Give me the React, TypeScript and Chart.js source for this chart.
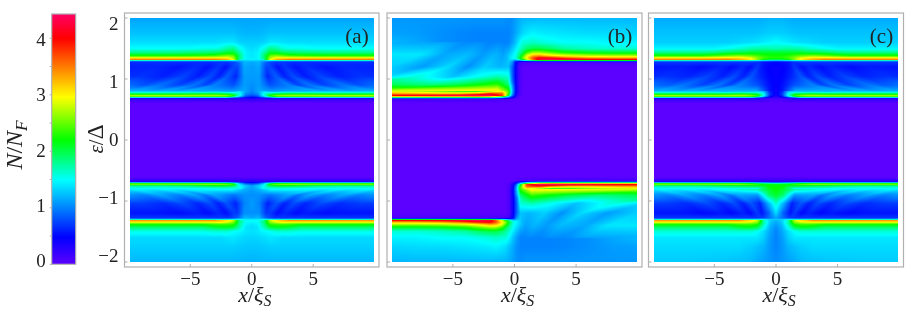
import React, { useEffect, useRef } from "react";
import { Chart, registerables } from "chart.js";

Chart.register(...registerables);

const SERIF = '"Liberation Serif", serif';
const TEXT = "#222222";
const FRAME = "#b0b0b0";

// Colour scale: value and colour of each stop
const scaleValues = [0, 0.48, 1.49, 2.2, 2.96, 4.0, 4.43];
const scaleColors = [
  [92, 0, 255],
  [0, 0, 255],
  [0, 255, 255],
  [0, 255, 0],
  [255, 255, 0],
  [255, 0, 0],
  [255, 0, 102],
];
const barLevels = [-0.1, 0, 0.48, 1.49, 2.2, 2.96, 4.0, 4.5];
const barTicks = [0, 0.5, 1, 1.5, 2, 2.5, 3, 3.5, 4];
const barLabels = [0, 1, 2, 3, 4];
const xTicks = [-5, 0, 5];
const yTicks = [-2, -1, 0, 1, 2];

// Panels (a) and (c): |x| columns and energy rows, mirrored about x = 0
const xHalf = [0, 0.5, 1, 1.5, 2, 2.5, 3, 4, 5, 6, 7, 8.5, 10];
const energies = [
  2.02, 1.75, 1.6, 1.5, 1.43, 1.38, 1.345, 1.32, 1.3, 1.28, 0.8, 0.75, 0.72, 0.7, 0.68, 0.6,
  -0.6, -0.68, -0.7, -0.72, -0.75, -0.8, -1.28, -1.3, -1.32, -1.345, -1.38, -1.43, -1.5, -1.6, -1.75, -2.02,
];
const panelA = [
  [1.12, 1.12, 1.12, 1.12, 1.12, 1.12, 1.12, 1.12, 1.12, 1.12, 1.12, 1.12, 1.12],
  [1.2, 1.2, 1.22, 1.25, 1.25, 1.25, 1.25, 1.25, 1.25, 1.25, 1.25, 1.25, 1.25],
  [1.3, 1.3, 1.32, 1.4, 1.4, 1.38, 1.36, 1.36, 1.36, 1.36, 1.36, 1.36, 1.36],
  [1.35, 1.4, 1.55, 1.8, 1.75, 1.6, 1.55, 1.55, 1.5, 1.5, 1.5, 1.5, 1.5],
  [1.4, 1.45, 1.75, 2.1, 2.1, 2.0, 1.95, 1.9, 1.9, 1.85, 1.85, 1.85, 1.85],
  [1.4, 1.45, 1.9, 2.5, 2.6, 2.5, 2.4, 2.35, 2.3, 2.3, 2.3, 2.3, 2.3],
  [1.4, 1.45, 1.85, 2.7, 3.0, 3.0, 3.0, 3.0, 3.0, 3.0, 3.0, 3.0, 3.0],
  [1.45, 1.45, 1.75, 2.9, 3.3, 3.4, 3.5, 3.5, 3.5, 3.5, 3.5, 3.5, 3.5],
  [1.3, 1.3, 1.2, 1.2, 1.2, 1.25, 1.25, 1.25, 1.25, 1.25, 1.25, 1.25, 1.25],
  [1.15, 1.2, 1.05, 0.8, 0.7, 0.65, 0.65, 0.65, 0.65, 0.65, 0.65, 0.65, 0.65],
  [1.0, 1.15, 1.35, 1.1, 1.1, 1.15, 1.2, 1.15, 1.2, 1.2, 1.2, 1.2, 1.2],
  [0.9, 1.0, 1.6, 2.0, 2.2, 2.25, 2.3, 2.3, 2.25, 2.2, 2.2, 2.2, 2.2],
  [0.7, 0.85, 1.5, 2.3, 2.7, 2.8, 2.8, 2.8, 2.85, 2.9, 2.9, 2.9, 2.9],
  [0.5, 0.6, 0.9, 1.2, 1.6, 1.6, 1.6, 1.6, 1.6, 1.6, 1.6, 1.6, 1.6],
  [0.3, 0.25, 0.25, 0.25, 0.25, 0.25, 0.25, 0.25, 0.25, 0.25, 0.25, 0.25, 0.25],
  [0, 0, 0, 0, 0, 0, 0, 0, 0, 0, 0, 0, 0],
  [0, 0, 0, 0, 0, 0, 0, 0, 0, 0, 0, 0, 0],
  [0.3, 0.25, 0.25, 0.25, 0.25, 0.25, 0.25, 0.25, 0.25, 0.25, 0.25, 0.25, 0.25],
  [0.5, 0.6, 0.9, 1.2, 1.4, 1.4, 1.4, 1.4, 1.4, 1.4, 1.4, 1.4, 1.4],
  [0.8, 0.9, 1.4, 2.4, 2.7, 2.75, 2.8, 2.8, 2.8, 2.8, 2.8, 2.8, 2.8],
  [1.1, 1.3, 1.5, 2.0, 2.05, 2.1, 2.1, 2.0, 1.9, 1.85, 1.8, 1.8, 1.8],
  [1.1, 1.2, 1.55, 1.5, 1.5, 1.5, 1.45, 1.45, 1.45, 1.45, 1.45, 1.45, 1.45],
  [1.15, 1.2, 1.0, 0.8, 0.7, 0.7, 0.7, 0.7, 0.7, 0.7, 0.7, 0.7, 0.7],
  [1.4, 1.4, 1.45, 1.35, 1.3, 1.3, 1.3, 1.3, 1.3, 1.3, 1.3, 1.3, 1.3],
  [1.5, 1.5, 1.8, 2.8, 3.1, 3.2, 3.4, 3.4, 3.4, 3.4, 3.4, 3.4, 3.4],
  [1.45, 1.5, 1.85, 2.6, 2.9, 3.1, 3.0, 3.0, 3.0, 3.0, 3.0, 3.0, 3.0],
  [1.4, 1.45, 1.8, 2.35, 2.4, 2.4, 2.4, 2.3, 2.3, 2.3, 2.3, 2.3, 2.3],
  [1.35, 1.4, 1.7, 2.05, 2.1, 2.1, 2.05, 1.9, 1.9, 1.9, 1.9, 1.9, 1.9],
  [1.38, 1.4, 1.47, 1.5, 1.6, 1.6, 1.6, 1.55, 1.55, 1.55, 1.55, 1.55, 1.55],
  [1.32, 1.33, 1.36, 1.4, 1.38, 1.35, 1.35, 1.35, 1.35, 1.35, 1.35, 1.35, 1.35],
  [1.27, 1.27, 1.28, 1.3, 1.3, 1.3, 1.3, 1.3, 1.3, 1.3, 1.3, 1.3, 1.3],
  [1.18, 1.19, 1.2, 1.2, 1.2, 1.2, 1.2, 1.2, 1.2, 1.2, 1.2, 1.2, 1.2],
];
const panelC = [
  [1.18, 1.18, 1.16, 1.15, 1.15, 1.15, 1.15, 1.15, 1.15, 1.15, 1.15, 1.15, 1.15],
  [1.3, 1.3, 1.28, 1.26, 1.25, 1.25, 1.25, 1.25, 1.25, 1.25, 1.25, 1.25, 1.25],
  [1.5, 1.45, 1.42, 1.38, 1.36, 1.35, 1.33, 1.3, 1.3, 1.3, 1.3, 1.3, 1.3],
  [1.7, 1.72, 1.75, 1.72, 1.7, 1.65, 1.6, 1.52, 1.45, 1.45, 1.45, 1.45, 1.45],
  [2.1, 2.1, 2.1, 2.1, 2.1, 2.05, 2.05, 2.0, 1.9, 1.85, 1.85, 1.85, 1.85],
  [2.25, 2.25, 2.3, 2.4, 2.5, 2.55, 2.6, 2.5, 2.4, 2.3, 2.3, 2.3, 2.3],
  [2.3, 2.3, 2.4, 2.6, 2.9, 3.0, 3.1, 3.1, 3.05, 3.0, 3.0, 3.0, 3.0],
  [2.0, 2.05, 2.2, 2.6, 3.0, 3.2, 3.3, 3.5, 3.5, 3.5, 3.5, 3.5, 3.5],
  [1.1, 1.15, 1.2, 1.25, 1.3, 1.3, 1.3, 1.3, 1.3, 1.3, 1.3, 1.3, 1.3],
  [0.5, 0.52, 0.55, 0.65, 0.7, 0.7, 0.7, 0.7, 0.7, 0.7, 0.7, 0.7, 0.7],
  [0.4, 0.6, 1.2, 1.2, 1.2, 1.15, 1.2, 1.15, 1.2, 1.2, 1.2, 1.2, 1.2],
  [0.4, 0.7, 1.5, 2.1, 2.2, 2.3, 2.3, 2.2, 2.2, 2.2, 2.2, 2.2, 2.2],
  [0.35, 0.6, 1.5, 2.4, 2.7, 2.8, 2.85, 2.85, 2.85, 2.85, 2.85, 2.85, 2.85],
  [0.2, 0.4, 0.8, 1.2, 1.6, 1.6, 1.6, 1.6, 1.6, 1.6, 1.6, 1.6, 1.6],
  [0.1, 0.1, 0.2, 0.25, 0.25, 0.25, 0.25, 0.25, 0.25, 0.25, 0.25, 0.25, 0.25],
  [0, 0, 0, 0, 0, 0, 0, 0, 0, 0, 0, 0, 0],
  [0, 0, 0, 0, 0, 0, 0, 0, 0, 0, 0, 0, 0],
  [0.25, 0.25, 0.25, 0.25, 0.25, 0.25, 0.25, 0.25, 0.25, 0.25, 0.25, 0.25, 0.25],
  [1.0, 1.1, 1.2, 1.3, 1.4, 1.4, 1.4, 1.4, 1.4, 1.4, 1.4, 1.4, 1.4],
  [2.1, 2.15, 2.2, 2.4, 2.6, 2.7, 2.8, 2.8, 2.8, 2.8, 2.8, 2.8, 2.8],
  [2.2, 2.2, 2.1, 2.1, 2.1, 2.05, 2.0, 2.0, 1.9, 1.85, 1.8, 1.8, 1.8],
  [2.2, 2.15, 1.9, 1.5, 1.5, 1.5, 1.5, 1.45, 1.45, 1.45, 1.45, 1.45, 1.45],
  [1.1, 0.9, 0.75, 0.7, 0.7, 0.7, 0.7, 0.7, 0.7, 0.7, 0.7, 0.7, 0.7],
  [1.3, 1.3, 1.4, 1.35, 1.3, 1.3, 1.3, 1.3, 1.3, 1.3, 1.3, 1.3, 1.3],
  [1.2, 1.3, 1.7, 2.8, 3.1, 3.2, 3.4, 3.4, 3.4, 3.4, 3.4, 3.4, 3.4],
  [1.15, 1.3, 1.75, 2.6, 2.9, 3.0, 3.0, 3.0, 3.0, 3.0, 3.0, 3.0, 3.0],
  [1.1, 1.25, 1.7, 2.3, 2.4, 2.4, 2.4, 2.3, 2.3, 2.3, 2.3, 2.3, 2.3],
  [1.05, 1.2, 1.55, 2.0, 2.1, 2.1, 2.05, 1.9, 1.9, 1.9, 1.9, 1.9, 1.9],
  [1.0, 1.15, 1.35, 1.5, 1.6, 1.6, 1.6, 1.6, 1.6, 1.6, 1.6, 1.6, 1.6],
  [1.0, 1.1, 1.3, 1.4, 1.4, 1.4, 1.4, 1.4, 1.4, 1.4, 1.4, 1.4, 1.4],
  [1.0, 1.08, 1.2, 1.25, 1.3, 1.32, 1.35, 1.35, 1.35, 1.35, 1.35, 1.35, 1.35],
  [1.05, 1.08, 1.1, 1.15, 1.2, 1.22, 1.23, 1.25, 1.26, 1.27, 1.28, 1.28, 1.28],
];

// Fringes between the two gap edges: the column positions of each row follow the arcs
const fringeEnergies = [1.28, 1.2, 1.04, 0.9, 0.8];
const fringeNodes = [
  [0, 0.6, 1.0, 1.3, 1.9, 2.5, 3.3, 4.1, 5.5, 7.0, 11],
  [0, 0.6, 1.15, 1.5, 2.1, 2.7, 3.6, 4.5, 6.0, 7.5, 11],
  [0, 0.6, 1.3, 2.0, 2.7, 3.4, 4.4, 5.6, 7.2, 9.0, 11.5],
  [0, 0.6, 1.5, 3.0, 3.8, 4.7, 6.0, 7.5, 8.8, 10.5, 12],
  [0, 0.6, 1.6, 5.3, 6.2, 7.2, 8.2, 9.6, 10.3, 11, 12],
];
const fringeATop = [
  [1.15, 1.2, 0.95, 0.8, 0.7, 0.7, 0.65, 0.65, 0.65, 0.65, 0.65],
  [1.1, 1.15, 0.75, 0.75, 0.55, 0.68, 0.55, 0.65, 0.55, 0.62, 0.6],
  [1.1, 1.1, 0.62, 0.85, 0.6, 0.78, 0.58, 0.75, 0.6, 0.68, 0.62],
  [1.05, 1.1, 0.8, 1.0, 0.75, 0.95, 0.75, 0.95, 0.8, 0.95, 0.9],
  [1.0, 1.15, 1.1, 1.2, 1.15, 1.2, 1.15, 1.2, 1.2, 1.2, 1.2],
];
const fringeABottom = [
  [1.15, 1.2, 0.95, 0.8, 0.7, 0.7, 0.7, 0.7, 0.7, 0.7, 0.7],
  [1.05, 1.05, 0.7, 0.7, 0.52, 0.62, 0.52, 0.58, 0.52, 0.55, 0.55],
  [1.1, 1.0, 0.6, 0.82, 0.6, 0.78, 0.62, 0.78, 0.65, 0.72, 0.7],
  [1.05, 1.05, 0.95, 1.15, 0.95, 1.15, 1.0, 1.15, 1.0, 1.1, 1.1],
  [1.1, 1.2, 1.55, 1.5, 1.45, 1.5, 1.45, 1.5, 1.45, 1.45, 1.45],
];
const fringeCTop = [
  [0.5, 0.52, 0.55, 0.65, 0.7, 0.7, 0.7, 0.7, 0.7, 0.7, 0.7],
  [0.45, 0.47, 0.55, 0.7, 0.52, 0.62, 0.52, 0.6, 0.52, 0.58, 0.55],
  [0.45, 0.5, 0.62, 0.82, 0.6, 0.78, 0.6, 0.75, 0.62, 0.68, 0.6],
  [0.45, 0.55, 0.8, 1.0, 0.75, 0.95, 0.75, 0.95, 0.85, 0.95, 0.9],
  [0.4, 0.6, 1.2, 1.2, 1.15, 1.2, 1.15, 1.2, 1.2, 1.2, 1.2],
];
const fringeCBottom = [
  [1.1, 0.9, 0.75, 0.72, 0.7, 0.7, 0.7, 0.7, 0.7, 0.7, 0.7],
  [1.35, 0.85, 0.55, 0.7, 0.5, 0.6, 0.5, 0.56, 0.5, 0.55, 0.55],
  [1.65, 1.2, 0.6, 0.82, 0.6, 0.78, 0.62, 0.78, 0.65, 0.72, 0.7],
  [2.1, 1.9, 1.1, 1.15, 0.95, 1.15, 1.0, 1.15, 1.0, 1.1, 1.1],
  [2.2, 2.1, 1.8, 1.5, 1.45, 1.5, 1.45, 1.5, 1.45, 1.45, 1.45],
];

// Panel (b): upper half; the lower half repeats it under (x, e) -> (-x, -e)
const xB = [-10, -8, -6, -4.5, -3, -2, -1, -0.5, -0.2, 0.1, 0.4, 0.7, 1, 1.5, 2, 3, 4, 6, 8, 10];
const energiesB = [2.02, 1.75, 1.6, 1.5, 1.43, 1.38, 1.345, 1.32, 1.3, 1.28, 1.2, 1.05, 0.95, 0.87, 0.8, 0.76, 0.73, 0.71, 0.69, 0.67, 0.6];
const panelB = [
  [1.08, 1.08, 1.08, 1.08, 1.08, 1.08, 1.08, 1.05, 1.05, 1.1, 1.15, 1.18, 1.18, 1.18, 1.2, 1.2, 1.2, 1.2, 1.2, 1.2],
  [1.12, 1.1, 1.05, 1.02, 1.0, 1.0, 1.0, 1.0, 1.05, 1.15, 1.25, 1.35, 1.4, 1.45, 1.42, 1.4, 1.38, 1.35, 1.35, 1.32],
  [1.22, 1.15, 1.05, 1.02, 1.0, 1.0, 1.0, 1.0, 1.1, 1.25, 1.45, 1.6, 1.6, 1.65, 1.6, 1.55, 1.5, 1.5, 1.45, 1.45],
  [1.3, 1.15, 1.1, 1.05, 1.05, 1.0, 1.05, 1.1, 1.25, 1.4, 1.6, 1.75, 1.9, 2.0, 2.0, 1.9, 1.75, 1.65, 1.6, 1.6],
  [1.4, 1.2, 1.2, 1.1, 1.1, 1.1, 1.1, 1.2, 1.35, 1.5, 1.75, 2.0, 2.4, 2.7, 2.7, 2.5, 2.3, 2.15, 2.1, 2.1],
  [1.35, 1.3, 1.15, 1.15, 1.15, 1.15, 1.2, 1.3, 1.4, 1.55, 1.9, 2.4, 2.9, 3.3, 3.4, 3.1, 2.95, 2.8, 2.75, 2.75],
  [1.3, 1.25, 1.15, 1.15, 1.15, 1.15, 1.2, 1.3, 1.45, 1.6, 2.0, 2.6, 3.0, 3.7, 4.1, 4.0, 3.7, 3.4, 3.3, 3.3],
  [1.3, 1.25, 1.15, 1.15, 1.15, 1.15, 1.2, 1.3, 1.4, 1.3, 1.8, 2.2, 2.8, 3.6, 4.2, 4.4, 4.3, 4.1, 4.0, 4.0],
  [1.25, 1.2, 1.12, 1.1, 1.1, 1.12, 1.2, 1.3, 1.2, 0.9, 1.0, 1.2, 1.4, 1.6, 1.7, 1.8, 1.8, 1.8, 1.8, 1.8],
  [1.2, 1.18, 1.1, 1.05, 1.08, 1.1, 1.2, 1.3, 1.1, 0.5, 0.2, 0.1, 0.1, 0.1, 0.1, 0.1, 0.1, 0.1, 0.1, 0.1],
  [1.15, 1.15, 1.05, 1.0, 1.05, 1.05, 1.2, 1.25, 0.9, 0.45, 0.1, 0, 0, 0, 0, 0, 0, 0, 0, 0],
  [1.4, 1.2, 1.3, 1.15, 1.2, 1.25, 1.45, 1.6, 0.9, 0.45, 0.12, 0, 0, 0, 0, 0, 0, 0, 0, 0],
  [1.8, 1.55, 1.6, 1.45, 1.3, 1.55, 1.75, 1.7, 1.0, 0.45, 0.12, 0, 0, 0, 0, 0, 0, 0, 0, 0],
  [2.2, 2.2, 2.0, 1.7, 1.6, 1.7, 2.3, 2.1, 1.2, 0.5, 0.12, 0, 0, 0, 0, 0, 0, 0, 0, 0],
  [2.8, 2.7, 2.5, 2.3, 2.2, 2.6, 3.0, 2.4, 1.3, 0.5, 0.12, 0, 0, 0, 0, 0, 0, 0, 0, 0],
  [3.4, 3.3, 3.2, 3.2, 3.5, 3.9, 3.6, 2.4, 1.2, 0.45, 0.1, 0, 0, 0, 0, 0, 0, 0, 0, 0],
  [4.0, 4.1, 4.2, 4.3, 4.4, 4.4, 3.8, 2.1, 1.0, 0.35, 0.08, 0, 0, 0, 0, 0, 0, 0, 0, 0],
  [3.0, 3.0, 3.1, 3.1, 3.2, 3.0, 2.2, 1.3, 0.7, 0.25, 0.05, 0, 0, 0, 0, 0, 0, 0, 0, 0],
  [1.3, 1.3, 1.3, 1.3, 1.3, 1.3, 1.0, 0.7, 0.4, 0.15, 0, 0, 0, 0, 0, 0, 0, 0, 0, 0],
  [0.15, 0.15, 0.15, 0.15, 0.15, 0.15, 0.1, 0.08, 0.05, 0, 0, 0, 0, 0, 0, 0, 0, 0, 0, 0],
  [0, 0, 0, 0, 0, 0, 0, 0, 0, 0, 0, 0, 0, 0, 0, 0, 0, 0, 0, 0],
];
const fringeEnergiesB = [1.6, 1.4, 1.2, 1.04, 0.9, 0.8];
const fringeNodesB = [
  [0.5, 0.8, 1.2, 2.0, 2.8, 4.0, 5.5, 12],
  [0.5, 0.9, 1.6, 2.6, 3.8, 5.8, 7.6, 13],
  [0.5, 1.2, 2.4, 3.8, 5.4, 7.5, 10, 14],
  [0.5, 1.4, 3.1, 5.0, 7.9, 10.5, 13, 16],
  [0.5, 1.4, 4.8, 7.0, 13, 14, 15, 18],
  [0.5, 1.4, 10, 12, 14, 15, 16, 18],
];
const fringeB = [
  [1.0, 1.0, 1.02, 1.0, 1.05, 1.03, 1.12, 1.2],
  [1.25, 1.12, 1.2, 1.1, 1.22, 1.15, 1.4, 1.4],
  [1.25, 1.2, 1.3, 1.05, 1.35, 1.1, 1.3, 1.2],
  [1.6, 1.7, 1.5, 1.25, 1.6, 1.35, 1.45, 1.4],
  [1.9, 2.4, 2.0, 1.9, 2.1, 2.05, 2.0, 2.0],
  [2.4, 3.1, 2.9, 2.8, 2.8, 2.8, 2.8, 2.8],
];

type Patch = { xs: number[]; ys: number[]; rows: number[][] };
type Arc = { nodes: number[][]; ys: number[]; rows: number[][]; xSign: number; ySign: number };

function colorOf(v: number): number[] {
  const n = scaleValues.length;
  if (v <= scaleValues[0]) return scaleColors[0];
  if (v >= scaleValues[n - 1]) return scaleColors[n - 1];
  let i = 0;
  while (v > scaleValues[i + 1]) i++;
  const t = (v - scaleValues[i]) / (scaleValues[i + 1] - scaleValues[i]);
  return scaleColors[i].map((c, k) => c + (scaleColors[i + 1][k] - c) * t);
}

function bracket(list: number[], q: number): [number, number] {
  for (let i = 0; i < list.length - 1; i++) {
    const a = list[i];
    const b = list[i + 1];
    if ((q >= a && q <= b) || (q <= a && q >= b)) return [i, b === a ? 0 : (q - a) / (b - a)];
  }
  return [-1, 0];
}

function sampleArc(p: Arc, x: number, y: number): number | null {
  const u = p.xSign === 0 ? Math.abs(x) : x * p.xSign;
  const v = p.ySign === 0 ? Math.abs(y) : y * p.ySign;
  const [j, t] = bracket(p.ys, v);
  if (j < 0) return null;
  const blended = p.nodes[j].map((n, k) => n * (1 - t) + p.nodes[j + 1][k] * t);
  const [i, s] = bracket(blended, u);
  if (i < 0) return null;
  const a = p.rows[j][i] * (1 - s) + p.rows[j][i + 1] * s;
  const b = p.rows[j + 1][i] * (1 - s) + p.rows[j + 1][i + 1] * s;
  return a * (1 - t) + b * t;
}

function sample(arcs: Arc[], patches: Patch[], x: number, y: number): number {
  for (const q of arcs) {
    const r = sampleArc(q, x, y);
    if (r !== null) return r;
  }
  for (const p of patches) {
    const [j, tj] = bracket(p.ys, y);
    const [i, ti] = bracket(p.xs, x);
    if (i < 0 || j < 0) continue;
    const a = p.rows[j][i] * (1 - ti) + p.rows[j][i + 1] * ti;
    const b = p.rows[j + 1][i] * (1 - ti) + p.rows[j + 1][i + 1] * ti;
    return a * (1 - tj) + b * tj;
  }
  return 0;
}

const mirrorRows = (rows: number[][]) => rows.map((r) => [...r].reverse().concat(r.slice(1)));
const xFull = [...xHalf].reverse().map((v) => -v).concat(xHalf.slice(1));

const patchesA: Patch[] = [{ xs: xFull, ys: energies, rows: mirrorRows(panelA) }];
const patchesC: Patch[] = [{ xs: xFull, ys: energies, rows: mirrorRows(panelC) }];
const patchesB: Patch[] = [
  { xs: xB, ys: energiesB, rows: panelB },
  { xs: [...xB].reverse().map((v) => -v), ys: energiesB.map((v) => -v), rows: panelB.map((r) => [...r].reverse()) },
];
const patchesBar: Patch[] = [{ xs: [0, 1], ys: barLevels, rows: barLevels.map((v) => [v, v]) }];

const arcsA: Arc[] = [
  { nodes: fringeNodes, ys: fringeEnergies, rows: fringeATop, xSign: 0, ySign: 1 },
  { nodes: fringeNodes, ys: fringeEnergies, rows: fringeABottom, xSign: 0, ySign: -1 },
];
const arcsC: Arc[] = [
  { nodes: fringeNodes, ys: fringeEnergies, rows: fringeCTop, xSign: 0, ySign: 1 },
  { nodes: fringeNodes, ys: fringeEnergies, rows: fringeCBottom, xSign: 0, ySign: -1 },
];
const arcsB: Arc[] = [
  { nodes: fringeNodesB, ys: fringeEnergiesB, rows: fringeB, xSign: -1, ySign: 1 },
  { nodes: fringeNodesB, ys: fringeEnergiesB, rows: fringeB, xSign: 1, ySign: -1 },
];

type Seg = { t: string; italic?: boolean; small?: boolean; big?: boolean };

function drawRich(ctx: CanvasRenderingContext2D, cx: number, cy: number, segs: Seg[], size: number, rotate: boolean) {
  const fontOf = (s: Seg) =>
    `${s.italic ? "italic " : ""}${s.small ? size * 0.72 : s.big ? size * 1.1 : size}px ${SERIF}`;
  let total = 0;
  for (const s of segs) {
    ctx.font = fontOf(s);
    total += ctx.measureText(s.t).width;
  }
  ctx.save();
  ctx.translate(cx, cy);
  if (rotate) ctx.rotate(-Math.PI / 2);
  ctx.fillStyle = TEXT;
  ctx.textBaseline = "alphabetic";
  ctx.textAlign = "left";
  let at = -total / 2;
  for (const s of segs) {
    ctx.font = fontOf(s);
    ctx.fillText(s.t, at, size * 0.3 + (s.small ? size * 0.2 : 0));
    at += ctx.measureText(s.t).width;
  }
  ctx.restore();
}

type PanelConfig = {
  box: { left: number; right: number; top: number; bottom: number };
  range: { x: [number, number]; y: [number, number] };
  image: { x: [number, number]; y: [number, number] };
  patches: Patch[];
  arcs: Arc[];
  tag?: string;
  xValues: number[];
  yValues: number[];
  yLabelValues: number[];
  labelRange?: [number, number];
  showX: boolean;
  xTitle?: boolean;
  yTitle?: { cx: number; cy: number; segs: Seg[]; size: number };
  tickOut?: boolean;
};

const minus = (v: number) => (v < 0 ? "\u2212" + Math.abs(v) : String(v));

const X_AXIS_H = 40;
const Y_AXIS_W = 40;

function noPadding(s: any) {
  s.paddingTop = 0;
  s.paddingBottom = 0;
  s.paddingLeft = 0;
  s.paddingRight = 0;
}

function makeChart(canvas: HTMLCanvasElement, cfg: PanelConfig) {
  const plugin = {
    id: "densityPanel",
    beforeDatasetsDraw(chart: any) {
      const { ctx, scales } = chart;
      const sx = scales.x;
      const sy = scales.y;
      const x0 = Math.round(sx.getPixelForValue(cfg.image.x[0]));
      const x1 = Math.round(sx.getPixelForValue(cfg.image.x[1]));
      const y0 = Math.round(sy.getPixelForValue(cfg.image.y[1]));
      const y1 = Math.round(sy.getPixelForValue(cfg.image.y[0]));
      const w = x1 - x0;
      const h = y1 - y0;
      const img = ctx.createImageData(w, h);
      for (let py = 0; py < h; py++) {
        const vy = sy.getValueForPixel(y0 + py + 0.5);
        for (let px = 0; px < w; px++) {
          const vx = sx.getValueForPixel(x0 + px + 0.5);
          const c = colorOf(sample(cfg.arcs, cfg.patches, vx, vy));
          const o = (py * w + px) * 4;
          img.data[o] = c[0];
          img.data[o + 1] = c[1];
          img.data[o + 2] = c[2];
          img.data[o + 3] = 255;
        }
      }
      ctx.putImageData(img, x0, y0);
    },
    afterDatasetsDraw(chart: any) {
      const { ctx, scales, chartArea: a } = chart;
      ctx.save();
      ctx.strokeStyle = FRAME;
      ctx.lineWidth = 1.2;
      ctx.strokeRect(a.left, a.top, a.right - a.left, a.bottom - a.top);
      ctx.lineWidth = 1;
      ctx.beginPath();
      for (const t of cfg.xValues) {
        const p = scales.x.getPixelForValue(t);
        ctx.moveTo(p, a.bottom);
        ctx.lineTo(p, a.bottom - 3);
      }
      for (const t of cfg.yValues) {
        const p = scales.y.getPixelForValue(t);
        ctx.moveTo(a.left - (cfg.tickOut ? 2 : 0), p);
        ctx.lineTo(a.left + (cfg.tickOut ? 0 : 3), p);
      }
      ctx.stroke();
      ctx.restore();
      if (cfg.tag) {
        ctx.save();
        ctx.fillStyle = TEXT;
        ctx.font = `21px ${SERIF}`;
        ctx.textAlign = "center";
        ctx.textBaseline = "middle";
        ctx.fillText(cfg.tag, a.right - 22, a.top + 24);
        ctx.restore();
      }
      if (cfg.xTitle) {
        drawRich(
          ctx,
          (a.left + a.right) / 2 + 3,
          295,
          [{ t: "x", italic: true }, { t: "/" }, { t: "\u03BE", italic: true }, { t: "S", italic: true, small: true }],
          22,
          false,
        );
      }
      if (cfg.yTitle) drawRich(ctx, cfg.yTitle.cx, cfg.yTitle.cy, cfg.yTitle.segs, cfg.yTitle.size, true);
    },
  };

  const nodes = [
    ...cfg.patches.flatMap((p) => p.ys.flatMap((y, j) => p.xs.map((x, i) => ({ x, y, v: p.rows[j][i] })))),
  ];
  const [lo, hi] = cfg.labelRange ?? cfg.range.y;
  const hasLabels = cfg.yLabelValues.length > 0;

  return new Chart(canvas, {
    type: "scatter",
    data: { datasets: [{ data: nodes, pointRadius: 0, showLine: false }] },
    plugins: [plugin],
    options: {
      animation: false,
      responsive: false,
      devicePixelRatio: 1,
      events: [],
      layout: {
        padding: {
          left: cfg.box.left - (hasLabels ? Y_AXIS_W : 0),
          right: 914 - cfg.box.right,
          top: cfg.box.top,
          bottom: 312 - cfg.box.bottom - (cfg.showX ? X_AXIS_H : 0),
        },
      },
      plugins: { legend: { display: false }, tooltip: { enabled: false }, title: { display: false } },
      scales: {
        x: {
          type: "linear",
          min: cfg.range.x[0],
          max: cfg.range.x[1],
          display: cfg.showX,
          grid: { display: false, drawTicks: false },
          border: { display: false },
          afterBuildTicks: (s: any) => {
            s.ticks = cfg.xValues.map((value) => ({ value }));
          },
          afterFit: (s: any) => {
            s.height = cfg.showX ? X_AXIS_H : 0;
            noPadding(s);
          },
          ticks: {
            autoSkip: false,
            maxRotation: 0,
            padding: 2,
            color: TEXT,
            font: { family: SERIF, size: 19 },
            callback: (v: any) => minus(Number(v)),
          },
        },
        y: {
          type: "linear",
          position: "left",
          min: cfg.range.y[0],
          max: cfg.range.y[1],
          grid: { display: false, drawTicks: false },
          border: { display: false },
          ticks: { display: false },
          afterFit: (s: any) => {
            s.width = 0;
            noPadding(s);
          },
        },
        yLabels: {
          type: "linear",
          position: "left",
          min: lo,
          max: hi,
          display: hasLabels,
          grid: { display: false, drawTicks: false },
          border: { display: false },
          afterBuildTicks: (s: any) => {
            s.ticks = cfg.yLabelValues.map((value) => ({ value }));
          },
          afterFit: (s: any) => {
            s.width = hasLabels ? Y_AXIS_W : 0;
            noPadding(s);
          },
          ticks: {
            autoSkip: false,
            padding: 6,
            color: TEXT,
            font: { family: SERIF, size: 19 },
            callback: (v: any) => minus(Number(v)),
          },
        },
      },
    } as any,
  });
}

const fullX: [number, number] = [-10.35, 10.35];
const fullY: [number, number] = [-2.082, 2.082];
const imgX: [number, number] = [-9.93, 9.93];
const imgY: [number, number] = [-2, 2];

const configs: PanelConfig[] = [
  {
    box: { left: 51.7, right: 75.7, top: 14, bottom: 264.3 },
    range: { x: [0, 1], y: [0, 4.43] },
    image: { x: [0, 1], y: [0, 4.43] },
    patches: patchesBar,
    arcs: [],
    xValues: [],
    yValues: barTicks,
    yLabelValues: barLabels,
    labelRange: [-0.04, 4.49],
    showX: false,
    tickOut: true,
    yTitle: {
      cx: 15,
      cy: 145,
      size: 24,
      segs: [{ t: "N", italic: true }, { t: "/" }, { t: "N", italic: true }, { t: "F", italic: true, small: true }],
    },
  },
  {
    box: { left: 124.5, right: 379, top: 13, bottom: 267 },
    range: { x: fullX, y: fullY },
    image: { x: imgX, y: imgY },
    patches: patchesA,
    arcs: arcsA,
    tag: "(a)",
    xValues: xTicks,
    yValues: yTicks,
    yLabelValues: yTicks,
    labelRange: [-2.167, 2.212],
    showX: true,
    xTitle: true,
    yTitle: { cx: 97, cy: 139, size: 21, segs: [{ t: "\u03B5", italic: true }, { t: "/" }, { t: "\u0394", big: true }] },
  },
  {
    box: { left: 387, right: 642, top: 13, bottom: 267 },
    range: { x: fullX, y: fullY },
    image: { x: imgX, y: imgY },
    patches: patchesB,
    arcs: arcsB,
    tag: "(b)",
    xValues: xTicks,
    yValues: yTicks,
    yLabelValues: [],
    showX: true,
    xTitle: true,
  },
  {
    box: { left: 648.5, right: 903.5, top: 13, bottom: 267 },
    range: { x: fullX, y: fullY },
    image: { x: imgX, y: imgY },
    patches: patchesC,
    arcs: arcsC,
    tag: "(c)",
    xValues: xTicks,
    yValues: yTicks,
    yLabelValues: [],
    showX: true,
    xTitle: true,
  },
];

export default function App() {
  const refs = useRef<(HTMLCanvasElement | null)[]>([]);
  useEffect(() => {
    const charts = configs.map((cfg, i) => makeChart(refs.current[i] as HTMLCanvasElement, cfg));
    return () => charts.forEach((c) => c.destroy());
  }, []);
  return (
    <div style={{ position: "absolute", left: 0, top: 0, width: 914, height: 312, background: "#fff", overflow: "hidden" }}>
      {configs.map((_, i) => (
        <canvas
          key={i}
          ref={(el) => {
            refs.current[i] = el;
          }}
          width={914}
          height={312}
          style={{ position: "absolute", left: 0, top: 0, width: 914, height: 312 }}
        />
      ))}
    </div>
  );
}
